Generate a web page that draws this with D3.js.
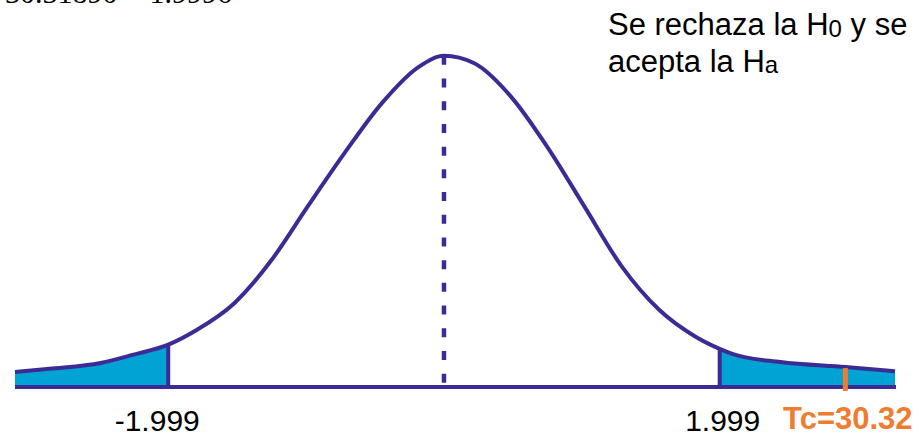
<!DOCTYPE html>
<html>
<head>
<meta charset="utf-8">
<script src="https://cdn.jsdelivr.net/npm/d3@7"></script>
<style>
  html, body { margin: 0; padding: 0; background: #fff; }
  svg { display: block; font-family: "Liberation Sans", Arial, sans-serif; }
</style>
</head>
<body>
<div id="chart"></div>
<script>
// curve: t value -> density
const tVals = [-3.11, -2.86, -2.49, -2.25, -1.999, -1.79, -1.52, -1.25, -0.99, -0.72, -0.45, -0.18, 0,
               0.22, 0.49, 0.75, 1.02, 1.29, 1.56, 1.83, 1.999, 2.09, 2.44, 2.91, 3.27];
const densVals = [0.018, 0.022, 0.029, 0.039, 0.051, 0.069, 0.101, 0.153, 0.217, 0.282, 0.342, 0.386, 0.399,
                  0.390, 0.349, 0.289, 0.217, 0.145, 0.093, 0.060, 0.046, 0.040, 0.030, 0.024, 0.019];
const critVals = [-1.999, 1.999];
const critLabels = ["-1.999", "1.999"];
const tcPos = 2.91;          // where the Tc mark is drawn
const tcLabel = "Tc=30.32";
const topNote = ["Se rechaza la H", "0", " y se"];
const topNote2 = ["acepta la H", "a"];
const cutText = "30.31890 > 1.9996";

const width = 922, height = 436;
const purple = "#3d2b95", cyan = "#00a3d3", orange = "#ef7d31";

const pts = tVals.map((t, i) => ({ t: t, d: densVals[i] }));
const densAt = t => pts.find(p => p.t === t).d;

const x = d3.scaleLinear().domain([-3.11, 3.27]).range([15, 895]);
const y = d3.scaleLinear().domain([0, 0.4]).range([387, 55]);

const svg = d3.select("#chart").append("svg")
    .attr("width", width)
    .attr("height", height);

// tails
const area = d3.area()
    .x(d => x(d.t))
    .y0(y(0))
    .y1(d => y(d.d))
    .curve(d3.curveMonotoneX);

svg.append("path")
    .datum(pts.filter(p => p.t <= critVals[0]))
    .attr("d", area)
    .attr("fill", cyan);
svg.append("path")
    .datum(pts.filter(p => p.t >= critVals[1]))
    .attr("d", area)
    .attr("fill", cyan);

// centre dashed line
svg.append("line")
    .attr("x1", x(0)).attr("x2", x(0))
    .attr("y1", y(densAt(0)))
    .attr("y2", y(0))
    .attr("stroke", purple)
    .attr("stroke-width", 4.5)
    .attr("stroke-dasharray", "9,13.7");

// critical lines
svg.selectAll(".crit")
    .data(critVals)
    .enter()
    .append("line")
    .attr("class", "crit")
    .attr("x1", d => x(d)).attr("x2", d => x(d))
    .attr("y1", d => y(densAt(d)))
    .attr("y2", y(0))
    .attr("stroke", purple)
    .attr("stroke-width", 4);

// baseline
svg.append("line")
    .attr("x1", x(-3.11)).attr("x2", x(3.27) + 1)
    .attr("y1", y(0)).attr("y2", y(0))
    .attr("stroke", purple)
    .attr("stroke-width", 4);

// curve
const line = d3.line()
    .x(d => x(d.t))
    .y(d => y(d.d))
    .curve(d3.curveMonotoneX);

svg.append("path")
    .datum(pts)
    .attr("d", line)
    .attr("fill", "none")
    .attr("stroke", purple)
    .attr("stroke-width", 4);

// Tc mark
svg.append("line")
    .attr("x1", x(tcPos)).attr("x2", x(tcPos))
    .attr("y1", y(densAt(tcPos)) + 1)
    .attr("y2", y(0) + 4)
    .attr("stroke", orange)
    .attr("stroke-width", 5);

// labels under the axis
const labelDx = [-11, 3];
svg.selectAll(".crit-label")
    .data(critLabels)
    .enter()
    .append("text")
    .attr("class", "crit-label")
    .attr("x", (d, i) => x(critVals[i]) + labelDx[i])
    .attr("y", 431)
    .attr("text-anchor", "middle")
    .attr("font-size", 30)
    .attr("fill", "#000")
    .text(d => d);

svg.append("text")
    .attr("x", 783)
    .attr("y", 429)
    .attr("font-size", 31)
    .attr("font-weight", "bold")
    .attr("fill", orange)
    .text(tcLabel);

// note top right
const note1 = svg.append("text")
    .attr("x", 608).attr("y", 35)
    .attr("font-size", 31)
    .attr("fill", "#000");
note1.append("tspan").text(topNote[0]);
note1.append("tspan").attr("font-size", 24).attr("dy", 2).text(topNote[1]);
note1.append("tspan").attr("dy", -2).text(topNote[2]);

const note2 = svg.append("text")
    .attr("x", 608).attr("y", 72)
    .attr("font-size", 31)
    .attr("fill", "#000");
note2.append("tspan").text(topNote2[0]);
note2.append("tspan").attr("font-size", 24).attr("dy", 1).text(topNote2[1]);

// text cut off at the top edge
svg.append("text")
    .attr("x", 5).attr("y", 3)
    .attr("font-family", "Liberation Serif, Times New Roman, serif")
    .attr("font-size", 30)
    .attr("fill", "#000")
    .text(cutText);
</script>
</body>
</html>
